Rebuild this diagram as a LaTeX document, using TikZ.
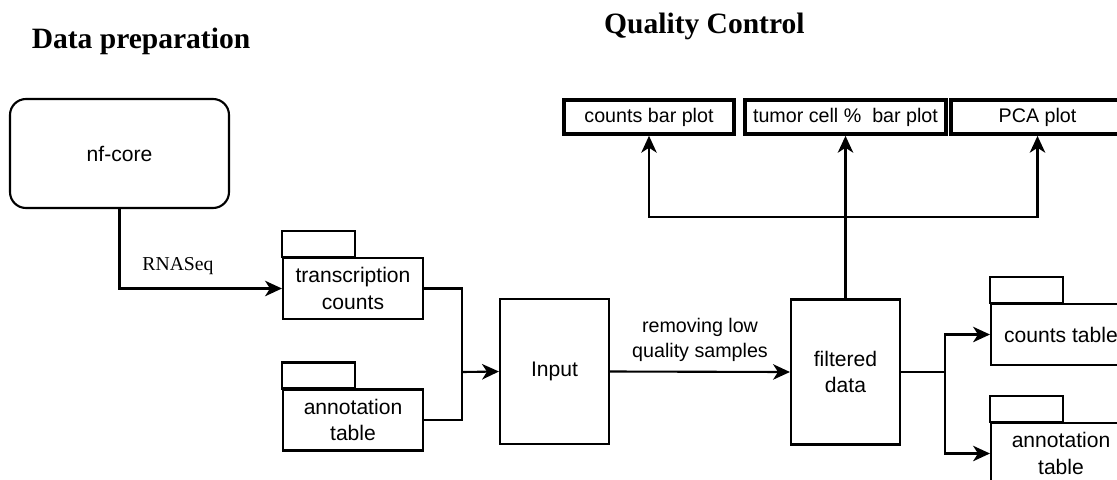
\documentclass[tikz,border=0pt]{standalone}
\usepackage{fontspec}
\setmainfont{Liberation Serif}
\setsansfont{Liberation Sans}
\usetikzlibrary{arrows.meta}

\begin{document}
\begin{tikzpicture}[>={Stealth[length=12pt, width=11pt, inset=3.5pt]}, line width=1.5pt,
    block/.style={draw, minimum width=2.725cm, minimum height=3.625cm, align=center,
        font=\sffamily\fontsize{15}{19}\selectfont},
    folder/.style={draw, minimum width=3.5cm, minimum height=1.525cm, align=center,
        font=\sffamily\fontsize{15}{19}\selectfont},
    plotbox/.style={draw, line width=2.6pt, minimum height=0.85cm, inner sep=1pt,
        font=\sffamily\fontsize{14}{17}\selectfont},
    title/.style={anchor=base, font=\bfseries\fontsize{21}{25}\selectfont}]

    \useasboundingbox (0, 0) rectangle (27.925, -11.975);
    \clip (0, 0) rectangle (27.925, -11.975);

    % titres
    \node[title] (prep) at (3.525, -1.2) {Data preparation};
    \node[title] (qc) at (17.61, -0.83) {Quality Control};

    % preparation des donnees
    \node[draw, rounded corners=0.4cm, minimum width=5.475cm, minimum height=2.725cm,
        font=\sffamily\fontsize{15}{19}\selectfont] (nf) at (2.9875, -3.8375) {nf-core};
    \node[folder] (tc) at (8.825, -7.2125) {transcription\\counts};
    \node[folder] (at) at (8.825, -10.5) {annotation\\table};
    \node[block] (input) at (13.8625, -9.2875) {Input};
    \node[block] (fd) at (21.1375, -9.3) {filtered\\data};

    % graphiques de controle
    \node[plotbox, minimum width=4.25cm] (p1) at (16.225, -2.925) {counts bar plot};
    \node[plotbox, minimum width=5.025cm] (p2) at (21.1375, -2.925) {tumor cell \%\ \ bar plot};
    \node[plotbox, minimum width=4.325cm] (p3) at (25.9375, -2.925) {PCA plot};

    % tables de sortie
    \node[folder] (ct) at (26.525, -8.3625) {counts table};
    \node[folder] (at2) at (26.525, -11.3375) {annotation\\table};

    % onglets des dossiers
    \foreach \n in {tc, at, ct, at2}
        \draw (\n.north west) rectangle ++(1.825, 0.65);

    % points de jonction
    \coordinate (join1) at (11.55, -9.3);
    \coordinate (join2) at (23.625, -9.3);
    \coordinate (bus) at (21.1375, -5.4175);

    % fleches
    \draw[->] (nf.south) |- node[pos=0.68, above=6pt, font=\fontsize{14}{17}\selectfont] {RNASeq} (tc.west);
    \draw (tc.east) -| (join1) |- (at.east);
    \draw[->] (join1) -- (input.west);
    \draw[->] (input.east) -- node[above=3pt, align=center, font=\sffamily\fontsize{14}{17.7}\selectfont]
        {removing low\\quality samples} (fd.west);
    \draw[->] (fd.north) -- (p2.south);
    \draw[->] (bus) -| (p1.south);
    \draw[->] (bus) -| (p3.south);
    \draw (fd.east) -- (join2);
    \draw[->] (join2) |- (ct.west);
    \draw[->] (join2) |- (at2.west);

\end{tikzpicture}
\end{document}
